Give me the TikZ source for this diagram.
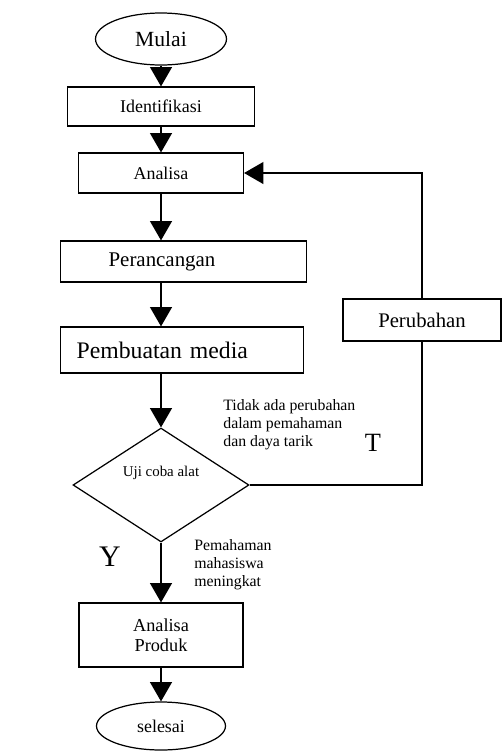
\documentclass[tikz,border=0pt]{standalone}
\usepackage{fontspec}
\setmainfont{Liberation Serif}
\usetikzlibrary{arrows.meta,positioning,shapes.geometric}

\begin{document}
\begin{tikzpicture}[x=0.02cm, y=-0.02cm,
  box/.style={draw, line width=0.7pt, inner sep=0pt, align=center},
  term/.style={draw, ellipse, line width=0.7pt, inner sep=0pt},
  note/.style={align=left, anchor=base west, inner sep=0pt, font=\fontsize{9}{10.2}\selectfont},
  arrow/.style={-{Triangle[width=12.5pt,length=11pt]}, line width=0.75pt},
  line/.style={line width=0.75pt}
]
  \useasboundingbox (0,0) rectangle (502,751);
  \node[term, minimum width=2.62cm, minimum height=1.04cm, font=\fontsize{12.3}{14}\selectfont] (mulai) at (161,39) {Mulai};
  \node[box, minimum width=3.74cm, minimum height=0.78cm, font=\fontsize{10.2}{12}\selectfont] (ident) at (161,106.5) {Identifikasi};
  \node[box, minimum width=3.3cm, minimum height=0.8cm, font=\fontsize{10.2}{12}\selectfont] (analisa) at (161,173) {Analisa};
  \node[box, anchor=west, text width=3cm, inner xsep=0.96cm, minimum height=0.82cm, align=left, font=\fontsize{11.9}{14}\selectfont] (rancang) at (60,261.5) {Perancangan};
  \node[box, anchor=west, text width=4.22cm, inner xsep=0.32cm, minimum height=0.92cm, align=left, font=\fontsize{13.5}{16}\selectfont] (buat) at (60,350) {Pembuatan media};
  \node[box, minimum width=3.16cm, minimum height=0.84cm, font=\fontsize{11.8}{14}\selectfont] (ubah) at (422,320) {Perubahan};
  \node[draw, diamond, line width=0.7pt, inner sep=0pt, minimum width=3.52cm, minimum height=2.28cm] (uji) at (161,485) {};
  \node[font=\fontsize{8.5}{10}\selectfont] (ujitext) at (161,473) {Uji coba alat};
  \node[box, minimum width=3.28cm, minimum height=1.28cm, font=\fontsize{10.4}{11.3}\selectfont] (produk) at (161,635) {Analisa\\Produk};
  \node[term, minimum width=2.58cm, minimum height=0.96cm, font=\fontsize{10.2}{12}\selectfont] (selesai) at (161,726) {selesai};
  \node[note] (tidak) at (223,446) {Tidak ada perubahan\\dalam pemahaman\\dan daya tarik};
  \node[note] (paham) at (194,586) {Pemahaman\\mahasiswa\\meningkat};
  \node[font=\fontsize{15}{18}\selectfont] (tlabel) at (373,443) {T};
  \node[font=\fontsize{17}{20}\selectfont] (ylabel) at (110,557) {Y};

  \draw[arrow] (mulai.south) -- (ident.north);
  \draw[arrow] (ident.south) -- (analisa.north);
  \draw[arrow] (analisa.south) -- (analisa.south |- rancang.north);
  \draw[arrow] (analisa.south |- rancang.south) -- (analisa.south |- buat.north);
  \draw[arrow] (analisa.south |- buat.south) -- (uji.north);
  \draw[arrow] (uji.south) -- (produk.north);
  \draw[arrow] (produk.south) -- (selesai.north);
  \draw[line] (uji.east) -| (ubah.south);
  \draw[arrow] (ubah.north) |- (analisa.east);
\end{tikzpicture}
\end{document}
